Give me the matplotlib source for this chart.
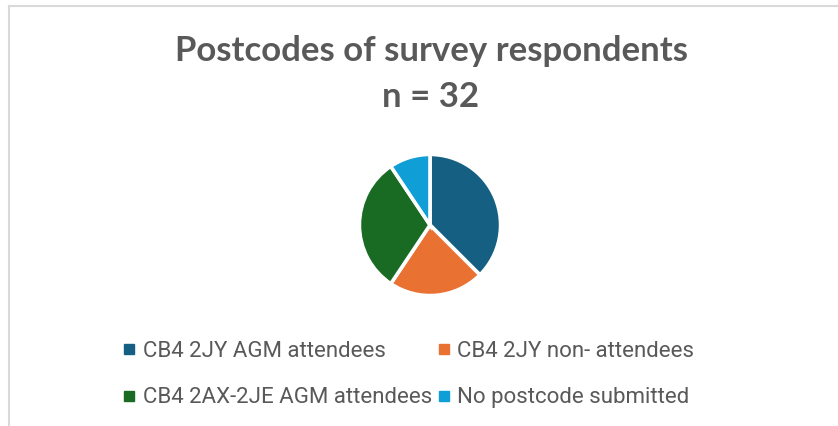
import matplotlib
matplotlib.use("Agg")
import matplotlib.pyplot as plt
from matplotlib.lines import Line2D

categories = ["CB4 2JY AGM attendees", "CB4 2JY non- attendees",
              "CB4 2AX-2JE AGM attendees", "No postcode submitted"]
values = [12, 7, 10, 3]
colors = ["#156082", "#E97132", "#196B24", "#0F9ED5"]
title_lines = ["Postcodes of survey respondents", "n = 32"]

W, H = 838, 426
fig = plt.figure(figsize=(W / 100, H / 100), dpi=100)
fig.patch.set_facecolor("white")

# chart frame (top and left visible)
fig.add_artist(Line2D([8.5 / W, 8.5 / W], [0, 1 - 5.5 / H], color="#D9D9D9", lw=1.5,
                      transform=fig.transFigure))
fig.add_artist(Line2D([8.5 / W, 1], [1 - 5.5 / H, 1 - 5.5 / H], color="#D9D9D9", lw=1.5,
                      transform=fig.transFigure))

cx, cy, r = 430, 225, 72
ax = fig.add_axes([(cx - r) / W, 1 - (cy + r) / H, 2 * r / W, 2 * r / H])
wedges, _ = ax.pie(values, colors=colors, startangle=90, counterclock=False,
                   radius=1, wedgeprops=dict(edgecolor="white", linewidth=2.6))
ax.set_xlim(-1.02, 1.02)
ax.set_ylim(-1.02, 1.02)
ax.set_aspect("equal")
ax.axis("off")

tcol = "#595959"
fig.text(431 / W, 1 - 51 / H, title_lines[0], ha="center", va="center",
         fontsize=25, fontweight="bold", color=tcol, family="Lato")
fig.text(431 / W, 1 - 97 / H, title_lines[1], ha="center", va="center",
         fontsize=25, fontweight="bold", color=tcol, family="Lato")

handles = [Line2D([], [], marker="s", linestyle="none", markersize=6.5,
                  markerfacecolor=c, markeredgecolor=c) for c in colors]
order = [0, 2, 1, 3]  # row-wise order as in the reference legend
leg = fig.legend([handles[i] for i in order], [categories[i] for i in order],
                 ncol=2, loc="center",
                 bbox_to_anchor=(409 / W, 1 - 374.5 / H), frameon=False,
                 prop=dict(family="Roboto", size=16), labelcolor=tcol,
                 handlelength=0.5, handletextpad=0.35, columnspacing=0.3,
                 labelspacing=1.15)

fig.savefig("out.png", dpi=100, facecolor="white")
